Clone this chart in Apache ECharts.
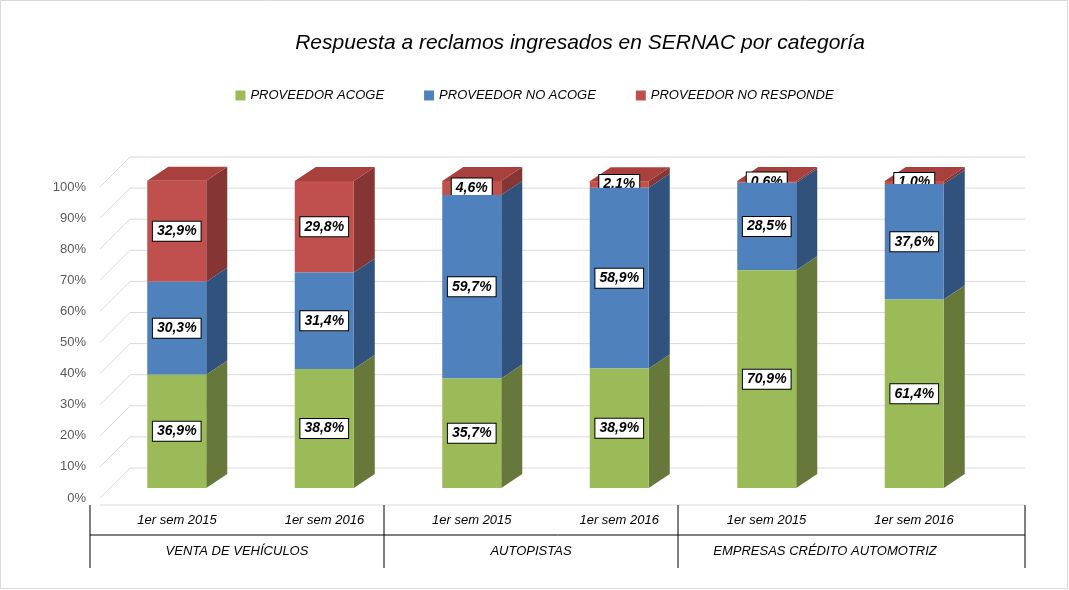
<!DOCTYPE html>
<html><head><meta charset="utf-8">
<script src="https://cdn.jsdelivr.net/npm/echarts@6/dist/echarts.min.js"></script>
<style>html,body{margin:0;background:#fff}#c{width:1069px;height:590px}</style>
</head><body><div id="c"></div>
<script>
const periods = ['1er sem 2015', '1er sem 2016', '1er sem 2015', '1er sem 2016', '1er sem 2015', '1er sem 2016'];
const groups = ['VENTA DE VEHÍCULOS', 'AUTOPISTAS', 'EMPRESAS CRÉDITO AUTOMOTRIZ'];
const acoge = [36.9, 38.8, 35.7, 38.9, 70.9, 61.4];
const noAcoge = [30.3, 31.4, 59.7, 58.9, 28.5, 37.6];
const noResponde = [32.9, 29.8, 4.6, 2.1, 0.6, 1.0];
const ticks = [0, 10, 20, 30, 40, 50, 60, 70, 80, 90, 100];

const FONT = '"Liberation Sans", Arial, sans-serif';
const DX = 21, DY = -14, BW = 59;
const fmtPct = v => v.toFixed(1).replace('.', ',') + '%';

const segs = [
  { name: 'PROVEEDOR ACOGE', vals: acoge, front: '#9BBB59', side: '#66793A', top: '#B5CF82' },
  { name: 'PROVEEDOR NO ACOGE', vals: noAcoge, front: '#4F81BD', side: '#31527D', top: '#7FA3D2' },
  { name: 'PROVEEDOR NO RESPONDE', vals: noResponde, front: '#C0504D', side: '#853533', top: '#A8403D' }
];

function barSeries(seg, k) {
  const data = seg.vals.map((v, i) => {
    let base = 0;
    for (let j = 0; j < k; j++) base += segs[j].vals[i];
    return [i, base, v];
  });
  return {
    name: seg.name, type: 'custom', xAxisIndex: 0, yAxisIndex: 0,
    itemStyle: { color: seg.front },
    encode: { x: 0, y: 2 },
    data,
    z: 10 - k,
    renderItem(params, api) {
      const i = api.value(0), base = api.value(1), v = api.value(2);
      const p0 = api.coord([i, base]), p1 = api.coord([i, base + v]);
      const xl = p0[0] - BW / 2, xr = p0[0] + BW / 2;
      const children = [
        { type: 'polygon', shape: { points: [[xr, p0[1]], [xr + DX, p0[1] + DY], [xr + DX, p1[1] + DY], [xr, p1[1]]] }, style: { fill: seg.side } },
        { type: 'rect', shape: { x: xl, y: p1[1], width: BW, height: p0[1] - p1[1] }, style: { fill: seg.front } }
      ];
      if (k === segs.length - 1) {
        children.push({ type: 'polygon', shape: { points: [[xl, p1[1]], [xr, p1[1]], [xr + DX, p1[1] + DY], [xl + DX, p1[1] + DY]] }, style: { fill: seg.top } });
      }
      children.push({
        type: 'text', z2: 100,
        style: {
          x: p0[0], y: (p0[1] + p1[1]) / 2, text: fmtPct(v), align: 'center', verticalAlign: 'middle',
          fill: '#000', font: 'italic bold 14px ' + FONT, backgroundColor: '#fff',
          borderColor: '#000', borderWidth: 1, padding: [3, 4, 2, 4]
        }
      });
      return { type: 'group', children };
    }
  };
}

const gridSeries = {
  type: 'custom', xAxisIndex: 1, yAxisIndex: 1, silent: true, z: 1,
  data: ticks.map(t => [0, t]),
  renderItem(params, api) {
    const p = api.coord([0, api.value(1)]);
    return { type: 'polyline', shape: { points: [p, [p[0] + 30, p[1] - 30], [1025, p[1] - 30]] }, style: { stroke: '#D9D9D9', lineWidth: 1, fill: null } };
  }
};

const line = (x1, y1, x2, y2) => ({ type: 'line', shape: { x1, y1, x2, y2 }, style: { stroke: '#000', lineWidth: 1 } });
const graphics = [
  { type: 'rect', shape: { x: 0.5, y: 0.5, width: 1067, height: 588 }, style: { fill: null, stroke: '#D9D9D9' } },
  { type: 'line', shape: { x1: 100, y1: 505, x2: 1025, y2: 505 }, style: { stroke: '#D9D9D9' } },
  line(90, 535, 1025, 535), line(90, 505, 90, 568), line(384, 505, 384, 568), line(678, 505, 678, 568), line(1025, 505, 1025, 568)
];
periods.forEach((p, i) => graphics.push({ type: 'text', style: { x: 177 + i * 147.4, y: 520, text: p, align: 'center', verticalAlign: 'middle', font: 'italic 13px ' + FONT, fill: '#000' } }));
groups.forEach((g, i) => graphics.push({ type: 'text', style: { x: 237 + i * 294, y: 551, text: g, align: 'center', verticalAlign: 'middle', font: 'italic 13px ' + FONT, fill: '#000' } }));

const chart = echarts.init(document.getElementById('c'));
chart.setOption({
  animation: false,
  title: { text: 'Respuesta a reclamos ingresados en SERNAC por categoría', left: 575, textAlign: 'center', top: 28, textStyle: { fontFamily: FONT, fontStyle: 'italic', fontWeight: 'normal', fontSize: 21, color: '#000' } },
  legend: { top: 84, left: 'center', itemWidth: 10, itemHeight: 10, itemGap: 40, icon: 'rect', textStyle: { fontFamily: FONT, fontStyle: 'italic', fontSize: 13, color: '#000' } },
  grid: [
    { left: 103, right: 81, top: 181, bottom: 102 },
    { left: 100, right: 44, top: 187, bottom: 92 }
  ],
  xAxis: [
    { type: 'category', gridIndex: 0, data: periods, show: false },
    { type: 'value', gridIndex: 1, min: 0, max: 925, show: false }
  ],
  yAxis: [
    { type: 'value', gridIndex: 0, min: 0, max: 100, show: false },
    { type: 'value', gridIndex: 1, min: 0, max: 100, interval: 10, axisLine: { show: false }, axisTick: { show: false }, splitLine: { show: false },
      axisLabel: { formatter: '{value}%', color: '#595959', fontFamily: FONT, fontSize: 13, margin: 14 } }
  ],
  graphic: graphics,
  series: [gridSeries, ...segs.map(barSeries)]
});
</script></body></html>
